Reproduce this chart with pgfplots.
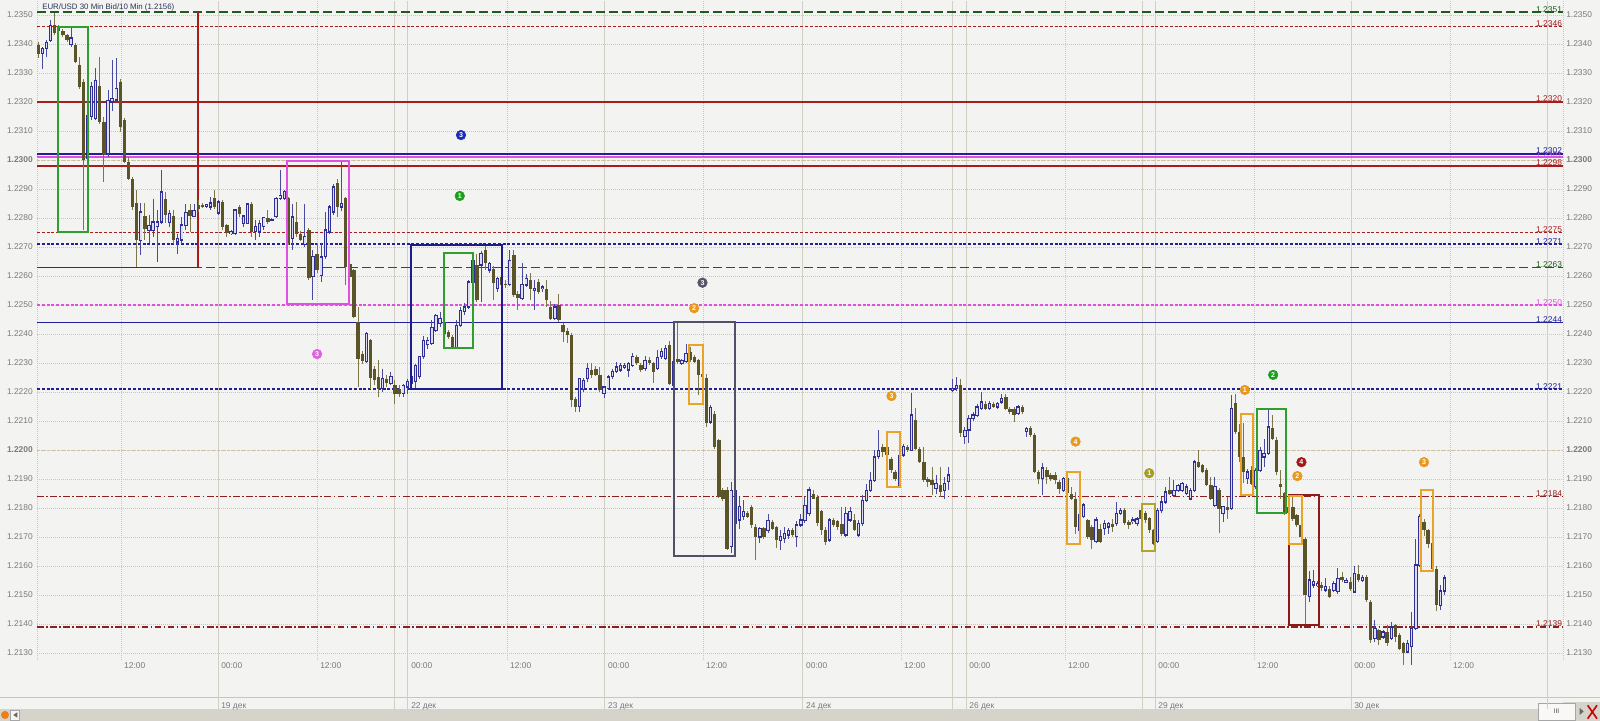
\documentclass[border=0pt]{standalone}
\usepackage{fontspec}
\setmainfont{Liberation Sans}
\usepackage{pgfplots}
\usepackage{pgfplotstable}
\pgfplotsset{compat=1.18}

\definecolor{paper}{HTML}{F3F3F1}
\definecolor{gridc}{HTML}{C6C6C6}
\definecolor{dayc}{HTML}{D2CEC3}
\definecolor{roundc}{HTML}{CDBFA0}
\definecolor{tickc}{HTML}{7A7A7A}
\definecolor{titlec}{HTML}{2B3355}
\definecolor{barc}{HTML}{D6D3CB}
\definecolor{bearfill}{HTML}{5B5428}
\definecolor{bearwick}{HTML}{7D7648}
\definecolor{bulledge}{HTML}{2E2E96}
\definecolor{bullfill}{HTML}{DCDCF2}
\definecolor{bullwick}{HTML}{4A4AA0}
\definecolor{lvgreen}{HTML}{1E5C1E}
\definecolor{lvdark}{HTML}{3A3A22}
\definecolor{lvred}{HTML}{A81C1C}
\definecolor{lvdred}{HTML}{8E1E1E}
\definecolor{lvblue}{HTML}{20209A}
\definecolor{lvpink}{HTML}{E050E0}
\definecolor{boxgreen}{HTML}{2E9E2E}
\definecolor{boxblue}{HTML}{1C1C8C}
\definecolor{boxgrey}{HTML}{50506A}
\definecolor{boxorange}{HTML}{E9A326}
\definecolor{boxolive}{HTML}{B3A22C}
\definecolor{boxdred}{HTML}{8B1A1A}
\definecolor{mblue}{HTML}{1C2AB8}
\definecolor{mgreen}{HTML}{1E9E1E}
\definecolor{mpink}{HTML}{E060E0}
\definecolor{mgrey}{HTML}{55556A}
\definecolor{morange}{HTML}{E8981E}
\definecolor{molive}{HTML}{A89C22}
\definecolor{mred}{HTML}{A01818}

% bar number k, open high low close (price x 10000)
\pgfplotstableread{
k o h l c
2 12336.8 12339.1 12331.6 12338.5
3 12338.5 12341.4 12335.6 12340.5
4 12341.4 12348.3 12340.8 12346.6
9 12339.7 12345.4 12339.1 12342.0
13 12300.6 12320.7 12297.7 12315.5
14 12314.9 12327.0 12313.8 12325.3
15 12314.4 12331.6 12313.8 12327.6
18 12302.3 12324.1 12301.1 12320.7
19 12320.1 12334.5 12317.2 12321.3
20 12320.7 12335.1 12320.1 12324.7
26 12272.4 12285.1 12267.2 12282.2
28 12275.9 12281.0 12271.3 12277.6
29 12275.9 12286.8 12273.6 12278.7
30 12277.0 12282.8 12264.9 12278.7
31 12278.7 12296.6 12278.2 12289.1
33 12278.7 12282.8 12277.0 12281.8
35 12271.8 12274.7 12267.8 12273.0
36 12272.4 12280.5 12271.3 12277.6
37 12277.6 12285.1 12275.9 12282.0
39 12280.7 12285.1 12280.5 12282.8
42 12284.2 12285.0 12283.5 12284.7
43 12283.9 12287.4 12282.8 12285.3
45 12281.8 12286.2 12281.0 12285.6
48 12274.7 12276.0 12274.0 12275.3
49 12274.7 12283.3 12274.1 12282.8
51 12278.2 12281.0 12277.0 12280.7
52 12278.2 12285.1 12278.0 12284.9
54 12275.3 12279.3 12272.4 12277.0
55 12275.3 12279.3 12273.6 12278.2
56 12277.0 12280.5 12276.0 12280.2
58 12279.3 12280.0 12278.8 12279.6
59 12280.5 12287.4 12279.9 12286.8
60 12286.8 12296.6 12286.2 12287.9
61 12286.8 12289.6 12286.2 12289.1
63 12273.0 12285.1 12269.0 12280.5
66 12270.9 12285.1 12270.1 12273.6
68 12260.0 12269.0 12251.7 12266.7
70 12260.2 12271.3 12258.0 12266.7
71 12266.7 12282.2 12266.1 12275.9
72 12275.3 12284.5 12274.7 12283.9
73 12282.2 12291.9 12281.0 12290.8
75 12283.9 12299.6 12282.5 12285.1
81 12230.5 12240.8 12229.9 12240.2
85 12221.3 12228.1 12220.1 12224.7
87 12223.0 12227.0 12222.4 12225.3
90 12219.5 12223.0 12218.4 12222.4
91 12221.8 12224.7 12219.5 12223.6
92 12223.0 12226.0 12222.4 12225.3
93 12223.6 12229.9 12220.7 12229.3
94 12225.3 12232.5 12224.7 12232.2
95 12232.2 12239.6 12231.5 12237.9
96 12236.5 12239.0 12235.0 12237.9
97 12236.8 12244.8 12236.2 12242.5
98 12241.4 12247.1 12240.8 12246.5
99 12243.7 12247.7 12242.5 12245.4
103 12235.6 12245.0 12235.0 12243.1
104 12243.1 12249.4 12242.5 12248.3
105 12247.7 12250.6 12246.5 12249.4
106 12249.4 12258.6 12248.8 12258.0
107 12258.0 12266.0 12257.5 12265.5
109 12263.8 12268.5 12251.2 12267.8
111 12262.1 12265.0 12261.0 12264.4
113 12255.7 12259.5 12254.5 12259.2
116 12257.0 12269.0 12256.5 12265.5
119 12252.3 12264.4 12251.7 12257.0
120 12257.0 12260.9 12256.3 12259.2
122 12255.2 12258.6 12248.3 12255.7
124 12255.7 12257.0 12254.5 12256.3
127 12245.4 12250.5 12244.8 12249.4
133 12215.0 12225.0 12213.2 12224.7
134 12221.0 12225.0 12220.0 12224.0
135 12224.7 12230.0 12223.5 12228.1
139 12219.5 12222.0 12218.0 12221.8
140 12221.3 12225.9 12220.7 12225.3
141 12225.3 12228.0 12224.5 12227.0
142 12227.0 12230.5 12226.5 12228.7
143 12227.6 12230.0 12227.0 12229.3
144 12228.7 12229.9 12228.0 12229.3
145 12227.6 12230.5 12225.3 12229.9
146 12229.3 12233.3 12228.7 12232.2
149 12228.2 12232.5 12227.5 12231.0
152 12228.2 12234.5 12227.5 12232.2
153 12232.2 12235.1 12231.5 12233.9
154 12231.6 12236.2 12231.0 12235.1
156 12222.4 12231.5 12221.5 12230.5
158 12230.0 12231.5 12229.5 12231.0
159 12230.5 12236.8 12230.0 12233.3
165 12209.8 12215.5 12209.0 12214.9
170 12166.7 12189.0 12164.4 12186.2
171 12174.7 12186.8 12173.5 12186.2
172 12175.9 12183.9 12173.0 12180.5
173 12177.0 12183.0 12176.0 12178.8
177 12170.1 12173.5 12168.0 12173.0
179 12172.4 12178.0 12171.5 12175.9
182 12168.9 12172.4 12165.5 12170.1
183 12169.5 12173.6 12168.0 12171.3
184 12170.7 12173.0 12169.5 12172.4
186 12170.1 12175.5 12166.7 12174.1
187 12174.1 12178.0 12173.5 12175.9
188 12175.9 12183.9 12175.0 12181.0
189 12178.2 12187.4 12177.5 12186.2
194 12169.0 12176.5 12168.5 12175.9
198 12170.7 12180.5 12170.0 12178.2
199 12175.9 12180.5 12175.3 12178.8
201 12170.7 12176.0 12170.0 12174.7
202 12174.7 12184.5 12174.0 12182.8
203 12182.8 12188.5 12182.0 12186.2
204 12186.2 12192.5 12185.5 12189.7
205 12189.7 12200.0 12189.0 12197.7
206 12197.7 12207.0 12197.0 12200.0
211 12187.9 12198.9 12187.4 12198.3
212 12198.3 12202.3 12197.7 12201.2
214 12200.0 12219.5 12199.5 12212.1
220 12186.8 12191.4 12185.1 12188.5
222 12186.2 12190.8 12183.3 12188.5
223 12189.1 12194.3 12186.2 12191.4
224 12220.7 12224.5 12220.0 12221.3
225 12221.3 12225.3 12220.5 12222.4
227 12204.6 12208.0 12202.3 12206.9
228 12206.9 12212.1 12202.3 12210.9
229 12210.9 12213.2 12210.0 12212.1
230 12212.1 12216.1 12211.5 12214.9
231 12214.4 12220.1 12213.8 12216.7
233 12214.4 12217.0 12213.8 12216.1
235 12214.9 12216.7 12214.4 12216.1
236 12216.7 12219.5 12216.1 12217.8
240 12212.6 12215.5 12212.0 12214.9
242 12206.4 12208.0 12204.6 12207.5
246 12190.2 12195.4 12184.5 12193.7
251 12186.2 12191.0 12185.5 12190.2
255 12172.4 12179.0 12171.8 12177.6
256 12177.0 12181.6 12176.4 12181.0
259 12168.4 12177.0 12167.8 12175.9
261 12173.0 12175.9 12170.7 12174.7
262 12173.6 12175.3 12171.3 12174.7
264 12174.7 12182.2 12174.1 12178.2
265 12178.2 12180.0 12177.6 12179.3
268 12175.3 12177.0 12174.5 12175.9
269 12174.7 12177.0 12174.1 12176.4
274 12168.4 12180.0 12168.0 12179.3
275 12179.3 12183.9 12178.5 12182.2
276 12182.2 12187.4 12181.5 12185.6
278 12184.5 12189.7 12184.0 12186.2
279 12186.2 12188.5 12185.5 12187.9
280 12186.2 12189.0 12185.5 12188.5
281 12185.1 12188.5 12184.5 12187.4
282 12183.3 12187.0 12182.8 12186.2
283 12186.2 12196.5 12185.6 12196.0
288 12181.0 12190.8 12180.5 12187.4
290 12178.2 12181.0 12175.3 12180.5
292 12179.9 12218.9 12179.3 12214.4
296 12190.2 12193.7 12188.5 12192.5
298 12187.4 12193.7 12186.5 12193.1
299 12193.1 12201.2 12192.5 12200.0
300 12197.7 12204.0 12194.3 12198.9
301 12198.9 12213.8 12198.3 12208.0
311 12149.4 12158.6 12147.7 12155.2
312 12153.5 12158.6 12152.5 12154.6
313 12153.5 12155.0 12152.8 12154.0
315 12151.7 12155.8 12151.0 12152.9
317 12151.7 12155.0 12151.0 12154.0
318 12151.2 12159.2 12150.5 12155.8
320 12154.6 12156.0 12154.0 12155.2
322 12151.2 12159.8 12150.5 12157.5
324 12155.2 12157.0 12154.5 12156.3
327 12135.1 12141.4 12134.0 12138.5
329 12135.6 12138.0 12135.0 12137.3
331 12135.1 12140.8 12134.5 12139.1
335 12130.5 12134.5 12130.0 12133.4
336 12132.2 12144.2 12125.8 12138.5
337 12138.5 12169.5 12138.0 12160.3
338 12160.3 12178.2 12159.8 12177.0
343 12146.5 12153.5 12145.0 12151.5
344 12151.5 12157.0 12150.0 12156.0
}\bulltab

\pgfplotstableread{
k o h l c
1 12339.7 12340.8 12335.1 12336.8
5 12346.6 12350.6 12343.1 12343.7
6 12346.0 12346.6 12343.5 12344.6
7 12344.6 12345.0 12342.5 12343.1
8 12343.1 12343.7 12341.0 12341.4
10 12339.7 12340.5 12333.3 12333.9
11 12332.8 12335.6 12324.7 12325.3
12 12327.0 12328.0 12275.9 12300.0
16 12325.5 12335.6 12312.6 12313.2
17 12313.2 12314.9 12292.5 12301.7
21 12327.0 12328.2 12309.8 12311.5
22 12313.8 12314.5 12298.9 12299.4
23 12299.4 12301.1 12293.1 12293.7
24 12293.7 12294.0 12282.8 12283.9
25 12285.1 12289.7 12263.2 12272.4
27 12280.7 12285.1 12272.4 12276.4
32 12286.8 12289.1 12278.2 12281.0
34 12280.7 12282.8 12271.3 12272.6
38 12282.8 12285.1 12275.3 12280.8
40 12284.7 12286.2 12282.2 12283.0
41 12284.5 12285.3 12283.5 12283.9
44 12286.8 12289.7 12283.3 12283.9
46 12285.6 12286.2 12275.9 12277.0
47 12277.6 12278.2 12273.6 12274.7
50 12283.9 12284.5 12280.5 12281.6
53 12285.1 12285.6 12273.6 12275.3
57 12280.2 12282.8 12278.2 12278.7
62 12286.8 12287.4 12270.7 12271.3
64 12278.7 12285.6 12273.6 12274.7
65 12274.7 12275.5 12272.0 12272.4
67 12275.9 12276.5 12258.6 12259.2
69 12267.8 12271.3 12260.9 12262.1
74 12291.9 12293.7 12280.5 12283.9
76 12286.8 12287.4 12256.9 12263.2
77 12264.4 12265.0 12258.0 12259.8
78 12262.1 12262.5 12245.4 12246.0
79 12244.3 12249.4 12221.8 12231.6
80 12233.4 12234.0 12229.5 12231.0
82 12237.9 12238.5 12221.3 12224.7
83 12228.1 12229.0 12222.5 12224.1
84 12225.3 12231.0 12218.4 12221.3
86 12224.7 12225.9 12222.0 12223.0
88 12222.4 12224.1 12216.1 12219.5
89 12221.3 12222.4 12218.4 12219.5
100 12244.2 12245.0 12239.6 12240.2
101 12240.8 12241.4 12238.5 12239.1
102 12239.1 12239.6 12235.0 12235.6
108 12263.8 12267.8 12251.2 12251.7
110 12269.0 12270.7 12262.1 12264.4
112 12262.6 12263.5 12251.7 12257.5
114 12259.8 12260.5 12256.3 12256.9
115 12257.5 12258.6 12256.0 12256.9
117 12267.3 12269.0 12253.0 12253.5
118 12254.0 12255.0 12248.3 12252.3
121 12258.6 12261.0 12251.7 12255.7
123 12258.0 12259.2 12254.0 12254.6
125 12255.7 12258.6 12249.4 12251.7
126 12249.4 12251.7 12245.0 12245.4
128 12250.0 12254.0 12244.3 12244.8
129 12243.1 12244.0 12237.4 12240.8
130 12241.0 12242.0 12237.0 12239.6
131 12239.6 12240.5 12215.0 12217.2
132 12217.8 12218.5 12213.2 12215.0
136 12227.6 12230.0 12225.0 12225.9
137 12228.1 12228.8 12225.6 12225.9
138 12225.9 12228.7 12220.0 12220.7
147 12232.2 12233.0 12229.5 12229.9
148 12229.3 12230.0 12227.0 12227.6
150 12231.0 12232.0 12229.5 12229.9
151 12229.9 12230.5 12223.0 12227.0
155 12236.2 12237.9 12222.4 12223.0
157 12231.6 12244.1 12229.5 12230.5
160 12234.0 12235.5 12230.5 12231.0
161 12232.2 12233.0 12230.0 12230.5
162 12231.0 12231.6 12219.0 12225.9
163 12226.4 12227.0 12224.0 12225.3
164 12224.7 12226.4 12208.0 12209.2
166 12212.6 12213.5 12200.5 12201.1
167 12203.5 12204.0 12183.5 12183.9
168 12186.2 12187.0 12182.5 12183.3
169 12186.2 12187.5 12165.5 12166.1
174 12178.2 12179.0 12176.5 12177.0
175 12180.5 12181.0 12173.0 12174.1
176 12173.6 12174.5 12162.1 12170.1
178 12173.0 12173.6 12169.5 12170.1
180 12175.3 12176.0 12172.5 12173.0
181 12173.6 12174.0 12166.5 12169.0
185 12172.4 12173.0 12170.0 12170.7
190 12185.1 12186.2 12183.0 12183.3
191 12183.9 12184.5 12174.0 12174.7
192 12178.8 12179.5 12171.0 12172.4
193 12172.4 12173.5 12167.5 12168.3
195 12175.9 12176.5 12173.5 12174.1
196 12175.5 12176.0 12172.5 12173.6
197 12174.7 12180.5 12170.5 12171.3
200 12175.9 12178.2 12172.0 12172.4
207 12201.2 12202.0 12197.5 12199.4
208 12201.2 12202.0 12198.0 12198.3
209 12197.1 12197.7 12192.0 12193.1
210 12192.5 12193.0 12189.5 12190.2
213 12201.2 12202.0 12199.4 12200.0
215 12210.4 12214.4 12200.0 12200.6
216 12200.6 12201.2 12195.5 12196.0
217 12196.0 12201.2 12189.0 12189.7
218 12190.2 12190.8 12187.4 12189.1
219 12189.7 12194.3 12184.5 12187.9
221 12187.9 12194.3 12183.9 12185.6
226 12222.4 12224.5 12204.6 12205.8
232 12216.1 12217.0 12213.8 12214.4
234 12216.1 12216.7 12214.5 12214.9
237 12218.4 12219.5 12213.8 12214.4
238 12214.4 12215.0 12212.6 12213.2
239 12214.4 12215.0 12209.8 12212.1
241 12214.9 12215.5 12212.6 12213.2
243 12207.5 12208.5 12204.5 12205.2
244 12205.2 12205.8 12192.0 12192.5
245 12192.5 12193.1 12188.5 12190.2
247 12193.1 12194.3 12188.5 12190.8
248 12191.4 12192.0 12189.5 12190.2
249 12191.4 12192.5 12188.5 12189.7
250 12189.1 12189.7 12185.1 12186.8
252 12190.2 12191.0 12184.5 12185.1
253 12185.1 12187.4 12182.8 12183.3
254 12183.3 12185.6 12171.3 12173.6
257 12175.9 12176.4 12169.5 12170.1
258 12173.6 12174.1 12166.1 12169.0
260 12173.0 12174.7 12168.0 12168.4
263 12174.7 12176.4 12171.8 12173.6
266 12179.3 12180.0 12174.1 12174.7
267 12175.3 12176.0 12173.0 12174.1
270 12179.3 12180.5 12175.5 12176.4
271 12178.2 12179.0 12175.0 12175.9
272 12176.4 12177.0 12171.5 12172.4
273 12172.4 12173.0 12167.2 12167.8
277 12186.2 12190.8 12184.5 12185.1
284 12196.0 12200.0 12193.7 12194.3
285 12194.8 12195.4 12192.0 12192.5
286 12193.1 12193.7 12187.4 12187.9
287 12187.9 12190.8 12182.8 12183.3
289 12186.2 12187.0 12171.3 12179.9
291 12180.5 12183.9 12176.4 12179.3
293 12216.1 12219.5 12205.5 12206.4
294 12206.3 12209.2 12196.0 12197.7
295 12197.7 12209.2 12188.5 12192.5
297 12193.1 12194.5 12188.0 12188.5
302 12207.5 12212.1 12203.5 12204.0
303 12203.5 12204.5 12191.5 12192.5
304 12188.5 12193.1 12183.3 12187.4
305 12185.1 12185.6 12177.5 12178.8
306 12180.5 12184.5 12178.0 12178.2
307 12180.5 12184.0 12175.5 12176.4
308 12177.6 12178.0 12173.5 12174.1
309 12174.1 12174.7 12169.5 12170.1
310 12169.5 12170.1 12140.0 12150.0
314 12153.5 12154.6 12151.5 12152.3
316 12152.3 12153.0 12148.8 12149.4
319 12156.3 12158.0 12154.5 12155.2
321 12154.6 12156.3 12151.5 12152.3
323 12157.5 12160.3 12154.5 12155.2
325 12156.3 12157.0 12147.5 12148.3
326 12147.7 12148.3 12133.4 12134.5
328 12137.9 12138.5 12132.8 12134.5
330 12137.3 12139.6 12132.5 12133.4
332 12139.6 12140.2 12134.0 12135.6
333 12136.2 12137.0 12131.1 12131.6
334 12133.4 12134.0 12125.8 12129.9
339 12175.3 12176.4 12170.5 12172.4
340 12172.4 12173.0 12166.5 12167.8
341 12167.8 12168.5 12158.5 12159.0
342 12159.0 12160.0 12144.5 12146.5
}\beartab

\pgfplotsset{
  chartframe/.style={
    at={(0,0)}, anchor=south west, scale only axis,
    width=1144.5pt, height=494.25pt,
    xmin=0.68, xmax=372.9, ymin=12127.59, ymax=12354.83,
    major tick length=0pt,
    ytick={12130,12140,...,12350},
    yticklabels={1.2130,1.2140,1.2150,1.2160,1.2170,1.2180,1.2190,\textbf{1.2200},1.2210,1.2220,1.2230,1.2240,1.2250,1.2260,1.2270,1.2280,1.2290,\textbf{1.2300},1.2310,1.2320,1.2330,1.2340,1.2350},
    tick label style={font=\fontsize{6.3}{7}\selectfont, text=tickc},
  },
  lvl/.style={line width=1.1pt},
  sdash/.style={dash pattern=on 2.2pt off 1.4pt},
  ldash/.style={dash pattern=on 6.75pt off 3pt},
  ddot/.style={dash pattern=on 5pt off 1.8pt on 1.2pt off 1.8pt},
  frame box/.style={line width=1.5pt, line join=miter},
  stick/.style 2 args={draw=none, mark=none, forget plot,
    error bars/.cd, y dir=both, y explicit, error mark=none,
    error bar style={draw=#1, line width=#2, solid}},
  badge/.style={only marks, mark=*, mark size=3.6pt, mark options={draw=#1, fill=#1},
    point meta=explicit symbolic, nodes near coords,
    nodes near coords style={anchor=center, inner sep=0pt, text=white,
      font=\fontsize{5.3}{5.3}\selectfont\bfseries}},
}
\tikzset{lvlab/.style={anchor=base east, inner sep=0pt, text=#1, font=\fontsize{6.3}{7}\selectfont}}

\begin{document}
\begin{tikzpicture}[x=1pt,y=1pt]
\fill[paper] (-27.75,-45.75) rectangle (1172.25,495);
\useasboundingbox (-27.75,-45.75) rectangle (1172.25,495);
% status strip at the bottom
\fill[barc] (-27.75,-45.75) rectangle (1172.25,-36.75);
\fill[barc] (1144.5,-45.75) rectangle (1172.25,-31.5);
\draw[gridc, line width=0.6pt] (-27.75,-27.75) -- (1172.25,-27.75);
\fill[white!85!barc, draw=gray!70] (1125.75,-45) rectangle (1153.5,-32.25);
\node[font=\fontsize{5}{5}\selectfont, text=black!70] at (1139.6,-38.6) {III};
\fill[black!60] (1157,-41.2) -- (1160,-38.6) -- (1157,-36) -- cycle;
\draw[red!80!black, line width=1.2pt] (1163,-44) -- (1170,-34) (1163,-34) -- (1170,-44);
\fill[white!80!barc, draw=gray!70] (-20,-45) rectangle (-13,-37.5);
\fill[black!60] (-14.8,-43.2) -- (-17.8,-41.2) -- (-14.8,-39.2) -- cycle;
\fill[orange!70!brown] (-24,-41.2) circle (3pt);

\begin{axis}[chartframe, clip=false,
  axis line style={draw=none},
  ymajorgrids, grid style={gridc, dash pattern=on 0.75pt off 0.75pt, line width=0.5pt},
  yticklabel style={anchor=east, inner sep=0pt, xshift=-3pt},
  xtick={21.16,44.83,68.98,91.17,115.3,139.2,163.1,187.5,211.4,227.3,251.4,273.4,297.5,321.2,345.3},
  xticklabels={{12:00},{00:00\\19 дек},{12:00},{00:00\\22 дек},{12:00},{00:00\\23 дек},{12:00},{00:00\\24 дек},{12:00},{00:00\\26 дек},{12:00},{00:00\\29 дек},{12:00},{00:00\\30 дек},{12:00}},
  xticklabel style={anchor=north west, inner sep=0pt, xshift=2.25pt, yshift=-1.6pt, align=left,
    font=\fontsize{6.3}{30}\selectfont, text=tickc},
]
% time grid
\pgfplotsinvokeforeach{0.68,21.16,68.98,115.3,163.1,211.4,251.4,297.5,345.3,372.9}{
  \addplot[gridc, dash pattern=on 0.75pt off 0.75pt, line width=0.5pt] coordinates {(#1,12127.59) (#1,12354.83)};
}
\pgfplotsinvokeforeach{44.83,88.0,91.17,139.2,187.5,224.1,227.3,270.4,273.4,321.2,369.2}{
  \addplot[dayc, line width=0.75pt] coordinates {(#1,12110.7) (#1,12354.83)};
}
\addplot[roundc, line width=0.7pt, dash pattern=on 2.25pt off 1.5pt] coordinates {(0.68,12300) (372.9,12300)};
\addplot[roundc, line width=0.7pt, dash pattern=on 2.25pt off 1.5pt] coordinates {(0.68,12200) (372.9,12200)};

% price levels
\addplot[lvl, lvgreen, ldash] coordinates {(0.68,12351) (372.9,12351)};
\addplot[lvl, lvred, sdash] coordinates {(0.68,12346) (372.9,12346)};
\addplot[lvl, lvred] coordinates {(0.68,12320) (372.9,12320)};
\addplot[lvl, lvblue] coordinates {(0.68,12302) (372.9,12302)};
\addplot[lvl, lvpink] coordinates {(0.68,12301) (372.9,12301)};
\addplot[lvl, lvred] coordinates {(0.68,12298) (372.9,12298)};
\addplot[lvl, lvred, sdash] coordinates {(0.68,12275) (372.9,12275)};
\addplot[lvl, lvblue, sdash] coordinates {(0.68,12271) (372.9,12271)};
\addplot[lvl, lvgreen, ldash] coordinates {(0.68,12263) (372.9,12263)};
\addplot[lvl, lvdark] coordinates {(0.68,12263) (39.95,12263)};
\addplot[lvl, lvpink, sdash] coordinates {(0.68,12250) (372.9,12250)};
\addplot[lvl, lvblue] coordinates {(0.68,12244) (372.9,12244)};
\addplot[lvl, lvblue, sdash] coordinates {(0.68,12221) (372.9,12221)};
\addplot[lvl, lvdred, ddot] coordinates {(0.68,12184) (372.9,12184)};
\addplot[lvl, lvdred, ddot] coordinates {(0.68,12139) (372.9,12139)};
\addplot[lvl, lvred] coordinates {(39.95,12351) (39.95,12263)};

% candles: wicks, then bodies
\addplot[stick={bearwick}{0.75pt}] table[x=k, y expr={(\thisrow{h}+\thisrow{l})/2}, y error expr={(\thisrow{h}-\thisrow{l})/2}] {\beartab};
\addplot[stick={bearfill}{2.5pt}] table[x=k, y expr={(\thisrow{o}+\thisrow{c})/2}, y error expr={max(abs(\thisrow{o}-\thisrow{c})/2,0.25)}] {\beartab};
\addplot[stick={bullwick}{0.75pt}] table[x=k, y expr={(\thisrow{h}+\thisrow{l})/2}, y error expr={(\thisrow{h}-\thisrow{l})/2}] {\bulltab};
\addplot[stick={bulledge}{2.5pt}] table[x=k, y expr={(\thisrow{o}+\thisrow{c})/2}, y error expr={abs(\thisrow{c}-\thisrow{o})/2+0.22}] {\bulltab};
\addplot[stick={bullfill}{1.1pt}] table[x=k, y expr={(\thisrow{o}+\thisrow{c})/2}, y error expr={max(abs(\thisrow{c}-\thisrow{o})/2-0.22,0)}] {\bulltab};

% marked zones
\addplot[frame box, boxgreen] coordinates {(5.88,12275.3) (13.2,12275.3) (13.2,12345.8) (5.88,12345.8)} --cycle;
\addplot[frame box, lvpink] coordinates {(61.7,12250.3) (76.9,12250.3) (76.9,12299.8) (61.7,12299.8)} --cycle;
\addplot[frame box, boxblue] coordinates {(91.8,12221.1) (114.0,12221.1) (114.0,12270.7) (91.8,12270.7)} --cycle;
\addplot[frame box, boxgreen] coordinates {(99.95,12235.1) (107.1,12235.1) (107.1,12268.0) (99.95,12268.0)} --cycle;
\addplot[frame box, boxgrey] coordinates {(156.05,12163.4) (171.0,12163.4) (171.0,12244.1) (156.05,12244.1)} --cycle;
\addplot[frame box, boxorange] coordinates {(159.8,12215.8) (163.2,12215.8) (163.2,12236.2) (159.8,12236.2)} --cycle;
\addplot[frame box, boxorange] coordinates {(207.9,12187.4) (211.3,12187.4) (211.3,12206.3) (207.9,12206.3)} --cycle;
\addplot[frame box, boxorange] coordinates {(252.0,12167.5) (255.2,12167.5) (255.2,12192.5) (252.0,12192.5)} --cycle;
\addplot[frame box, boxolive] coordinates {(270.1,12165.3) (273.3,12165.3) (273.3,12181.4) (270.1,12181.4)} --cycle;
\addplot[frame box, boxorange] coordinates {(294.3,12184.5) (297.2,12184.5) (297.2,12212.4) (294.3,12212.4)} --cycle;
\addplot[frame box, boxgreen] coordinates {(298.2,12178.4) (305.3,12178.4) (305.3,12214.3) (298.2,12214.3)} --cycle;
\addplot[frame box, boxdred] coordinates {(306.1,12139.7) (313.4,12139.7) (313.4,12184.5) (306.1,12184.5)} --cycle;
\addplot[frame box, boxorange] coordinates {(306.1,12167.6) (309.3,12167.6) (309.3,12184.3) (306.1,12184.3)} --cycle;
\addplot[frame box, boxorange] coordinates {(338.2,12158.4) (341.2,12158.4) (341.2,12186.2) (338.2,12186.2)} --cycle;

% numbered badges
\addplot[badge=mblue] coordinates {(104.1,12308.6) [3]};
\addplot[badge=mgreen] coordinates {(103.8,12287.6) [1] (302.2,12225.9) [2]};
\addplot[badge=mpink] coordinates {(69.0,12233.1) [3]};
\addplot[badge=mgrey] coordinates {(163.0,12257.7) [3]};
\addplot[badge=morange] coordinates {(160.97,12248.9) [2] (209.1,12218.6) [3] (254.0,12202.9) [4] (295.3,12220.7) [1] (308.1,12191.0) [2] (339.0,12195.8) [3]};
\addplot[badge=molive] coordinates {(271.97,12192.0) [1]};
\addplot[badge=mred] coordinates {(309.1,12195.8) [4]};

% level captions
\node[lvlab=lvgreen] at (axis cs:372.7,12351) {1.2351};
\node[lvlab=lvred] at (axis cs:372.7,12346) {1.2346};
\node[lvlab=lvred] at (axis cs:372.7,12320) {1.2320};
\node[lvlab=lvpink] at (axis cs:372.7,12301) {1.2301};
\node[lvlab=lvblue] at (axis cs:372.7,12302.4) {1.2302};
\node[lvlab=lvred] at (axis cs:372.7,12298) {1.2298};
\node[lvlab=lvred] at (axis cs:372.7,12275) {1.2275};
\node[lvlab=lvblue] at (axis cs:372.7,12271) {1.2271};
\node[lvlab=lvgreen] at (axis cs:372.7,12263) {1.2263};
\node[lvlab=lvpink] at (axis cs:372.7,12250) {1.2250};
\node[lvlab=lvblue] at (axis cs:372.7,12244) {1.2244};
\node[lvlab=lvblue] at (axis cs:372.7,12221) {1.2221};
\node[lvlab=lvdred] at (axis cs:372.7,12184) {1.2184};
\node[lvlab=lvdred] at (axis cs:372.7,12139) {1.2139};
\end{axis}

\begin{axis}[chartframe, hide x axis, axis y line*=right, axis line style={draw=none},
  yticklabel style={anchor=west, inner sep=0pt, xshift=2.25pt}]
\addplot[draw=none] coordinates {(100,12200)};
\end{axis}

\node[anchor=west, inner sep=0pt, text=titlec, font=\fontsize{5.9}{6}\selectfont] at (3.75,489.75) {EUR/USD 30 Min Bid/10 Min (1.2156)};
\end{tikzpicture}
\end{document}
